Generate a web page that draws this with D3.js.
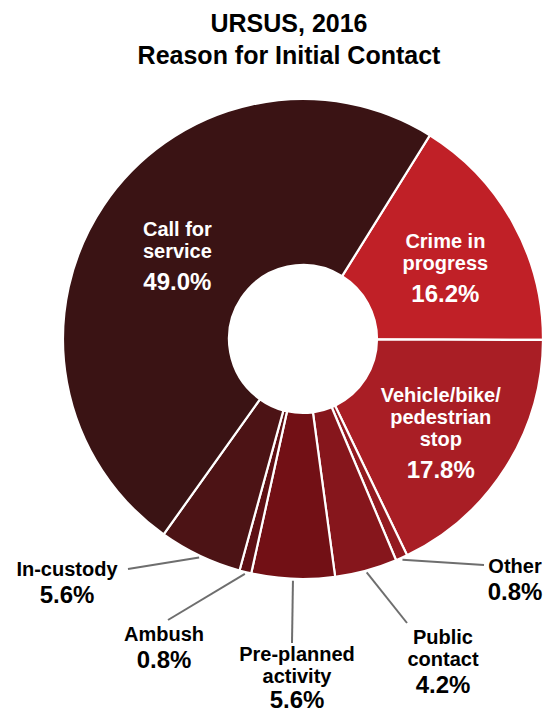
<!DOCTYPE html>
<html><head><meta charset="utf-8">
<script src="https://cdn.jsdelivr.net/npm/d3@7"></script>
<style>
body{margin:0;background:#fff}
text{font-family:"Liberation Sans",Arial,Helvetica,sans-serif;font-weight:bold}
</style>
</head><body>
<svg id="chart" width="550" height="715"></svg>
<script>
// ---- data (clockwise order) ----
const categories = ["Crime in progress","Vehicle/bike/pedestrian stop","Other","Public contact","Pre-planned activity","Ambush","In-custody","Call for service"];
const labelLines = [["Crime in","progress"],["Vehicle/bike/","pedestrian","stop"],["Other"],["Public","contact"],["Pre-planned","activity"],["Ambush"],["In-custody"],["Call for","service"]];
const values = [16.2,17.8,0.8,4.2,5.6,0.8,5.6,49.0];
const colors = ["#c02027","#a91e25","#941a20","#86161c","#721015","#5e1014","#4c1315","#3a1314"];
const inside = [true,true,false,false,false,false,false,true];
const titleLines = ["URSUS, 2016","Reason for Initial Contact"];

// ---- layout ----
const W=550,H=715, cx=303, cy=339, rOuter=240, rInner=74;
const startDeg = 31.9;
// inner labels: offset of first baseline relative to arc centroid
const innerOffset = {0:[5,-15],1:[5,-21],7:[5,-16]};
// outer labels: [text centre x, first baseline y, leader end x, leader end y, pct gap]
const outerPos = {2:[515,573,484,565,27],3:[443,644,407,623,27],4:[297,661,292,643,25],5:[164,641,168,620,27],6:[67,576,128,569,27]};

const svg=d3.select("#chart");
const data = categories.map((c,i)=>({name:c,lines:labelLines[i],value:values[i],color:colors[i],inside:inside[i],i}));

svg.append("g").selectAll("text").data(titleLines).join("text")
  .attr("x",289).attr("y",(d,i)=>32+i*32).attr("text-anchor","middle")
  .attr("font-size",25).attr("fill","#000").text(d=>d);

const start = startDeg*Math.PI/180;
const pie = d3.pie().value(d=>d.value).sort(null).startAngle(start).endAngle(start+2*Math.PI);
const arcs = pie(data);
const arc = d3.arc().innerRadius(rInner).outerRadius(rOuter);
const g = svg.append("g").attr("transform",`translate(${cx},${cy})`);

g.selectAll("path").data(arcs).join("path")
  .attr("d",arc).attr("fill",d=>d.data.color)
  .attr("stroke","#fff").attr("stroke-width",2.2).attr("stroke-linejoin","miter");

const fmt = v=>d3.format(".1f")(v)+"%";
const labelArc = d3.arc().innerRadius(157).outerRadius(157);

// inner labels
arcs.filter(a=>a.data.inside).forEach(a=>{
  const [x,y]=labelArc.centroid(a);
  const off=innerOffset[a.data.i];
  const t=g.append("text").attr("text-anchor","middle").attr("fill","#fff");
  const x0=x+off[0], y0=y+off[1];
  a.data.lines.forEach((ln,k)=>{
    t.append("tspan").attr("x",x0).attr("y",y0+k*22).attr("font-size",20).text(ln);
  });
  t.append("tspan").attr("x",x0).attr("y",y0+(a.data.lines.length-1)*22+32).attr("font-size",24).text(fmt(a.data.value));
});

// outer labels with leaders
arcs.filter(a=>!a.data.inside).forEach(a=>{
  const p=outerPos[a.data.i];
  const mid=(a.startAngle+a.endAngle)/2;
  const sx=cx+(rOuter+2)*Math.sin(mid), sy=cy-(rOuter+2)*Math.cos(mid);
  svg.append("line").attr("x1",sx).attr("y1",sy).attr("x2",p[2]).attr("y2",p[3])
    .attr("stroke","#6e6e6e").attr("stroke-width",2);
  const t=svg.append("text").attr("text-anchor","middle").attr("fill","#000");
  a.data.lines.forEach((ln,k)=>{
    t.append("tspan").attr("x",p[0]).attr("y",p[1]+k*22).attr("font-size",20).text(ln);
  });
  t.append("tspan").attr("x",p[0]).attr("y",p[1]+(a.data.lines.length-1)*22+p[4]).attr("font-size",24).text(fmt(a.data.value));
});
</script>
</body></html>
